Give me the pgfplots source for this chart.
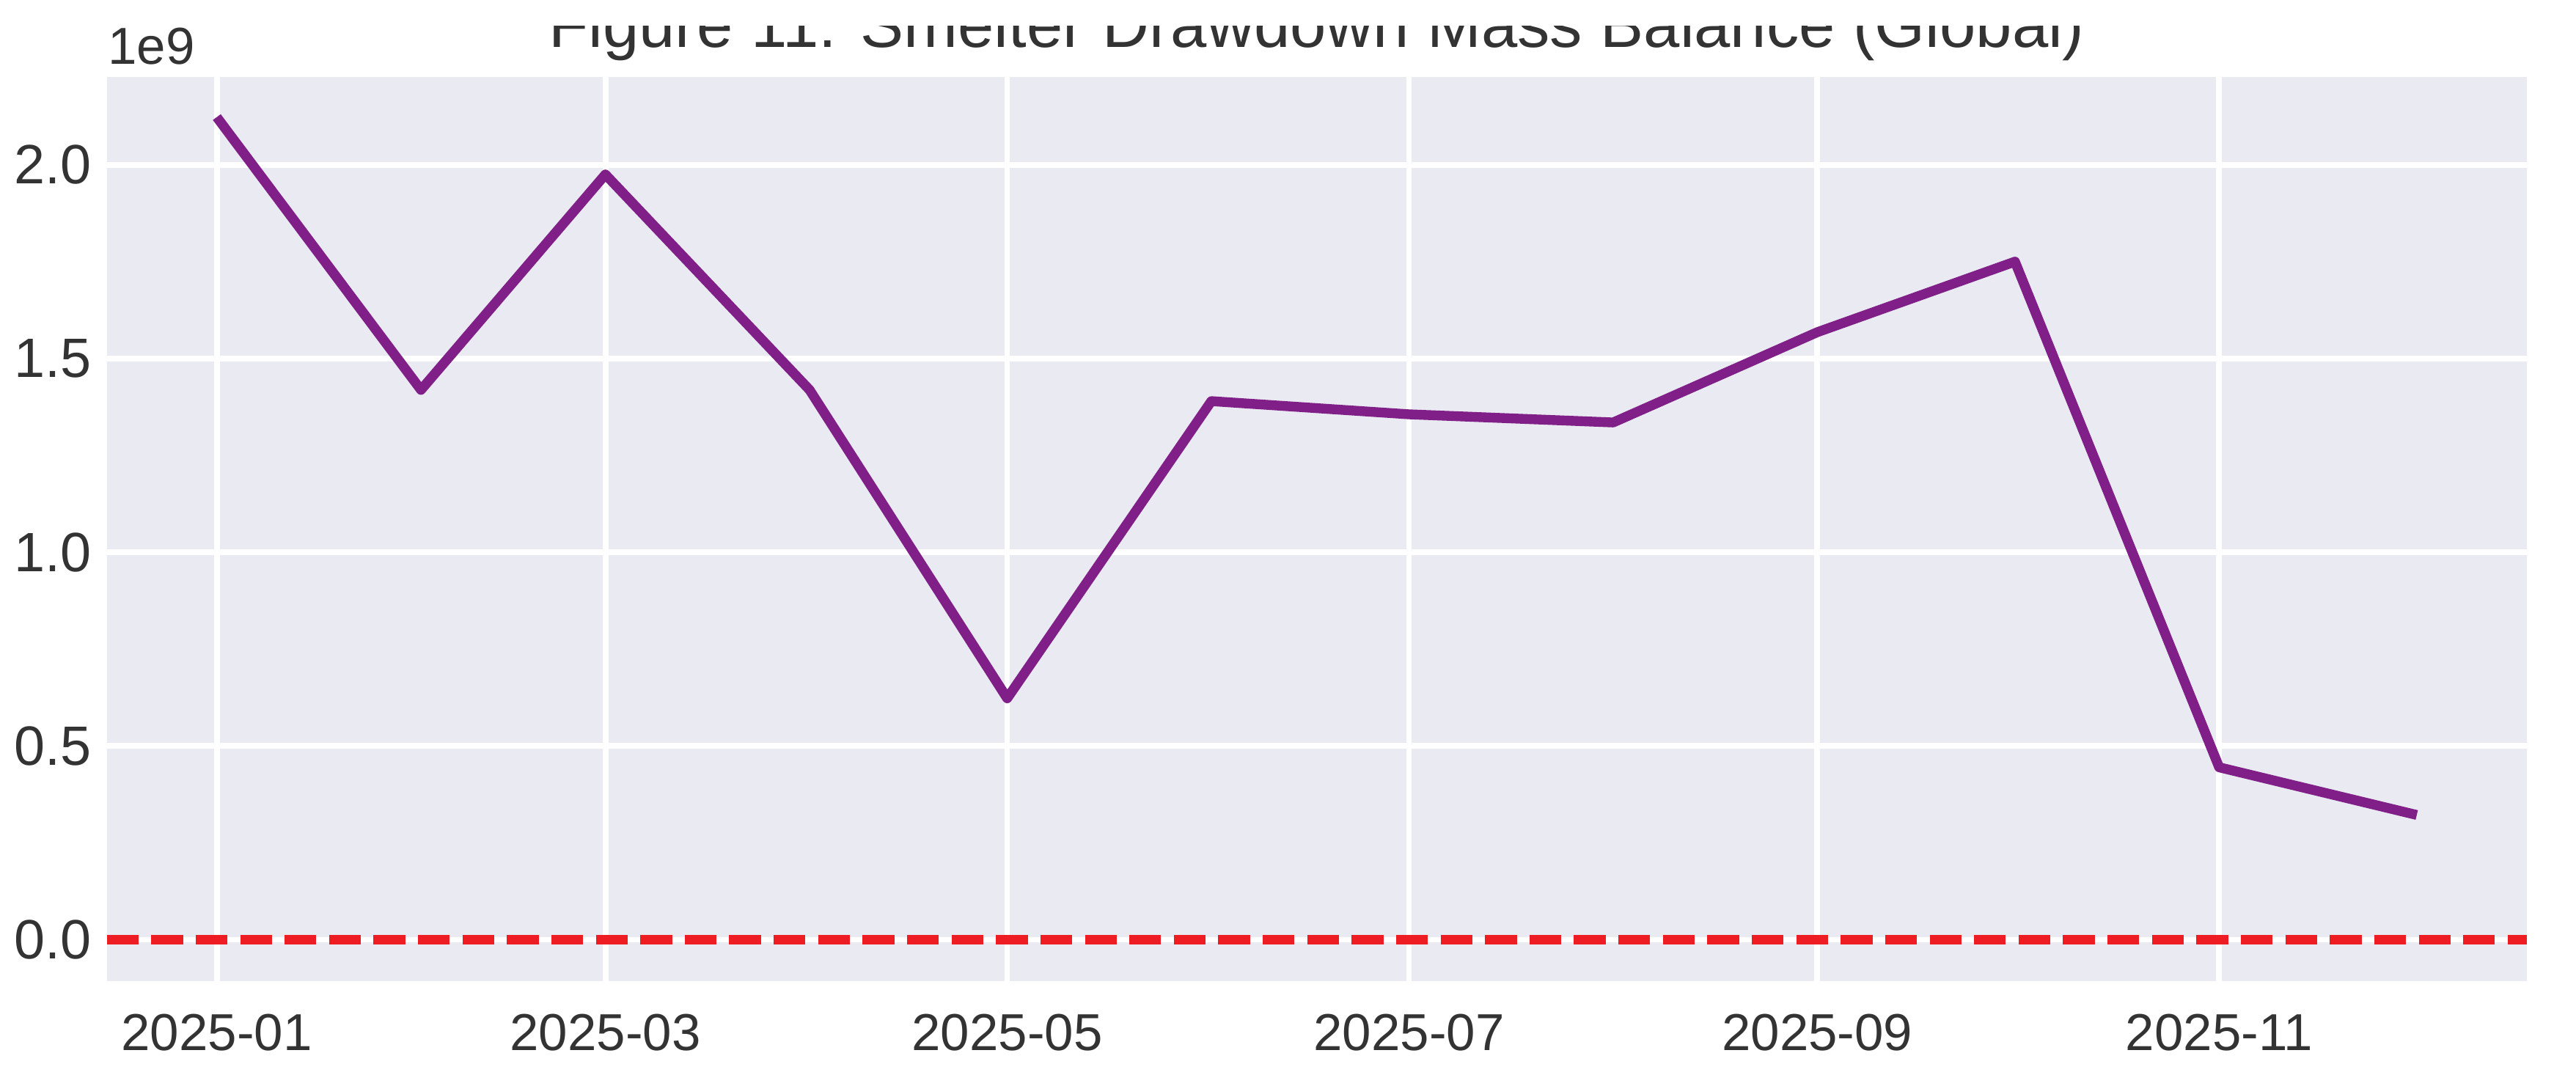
\documentclass[border=0pt]{standalone}
\usepackage{fontspec}
\setmainfont{Liberation Sans}
\usepackage{pgfplots}
\pgfplotsset{compat=1.18}
\usetikzlibrary{calc}

\definecolor{bgcol}{HTML}{EAEAF2}
\definecolor{txt}{HTML}{333333}
\definecolor{linepurple}{HTML}{7F1F87}
\definecolor{zerored}{HTML}{EE1D23}

% days since 2025-01-01, value in 1e9
\pgfplotstableread{
day   val
0     2.123
31    1.419
59    1.975
90    1.419
120   0.623
151   1.390
181   1.356
212   1.335
243   1.568
273   1.750
304   0.445
334   0.322
}\balance

\begin{document}
\begin{tikzpicture}
\begin{axis}[
    name=ax,
    scale only axis,
    width=14.73cm, height=5.5cm,
    xmin=-16.7, xmax=350.7,
    ymin=-0.106, ymax=2.226,
    axis background/.style={fill=bgcol},
    axis line style={draw=none},
    major tick length=0pt,
    grid=major,
    major grid style={white, line width=1pt},
    xtick={0,59,120,181,243,304},
    xticklabels={2025-01,2025-03,2025-05,2025-07,2025-09,2025-11},
    ytick={0,0.5,1,1.5,2},
    yticklabels={0.0,0.5,1.0,1.5,2.0},
    tick label style={font=\fontsize{9}{10}\selectfont, text=txt},
    xticklabel style={yshift=-0.08cm},
    yticklabel style={font=\fontsize{9.6}{11}\selectfont, xshift=0.03cm},
]
\addplot[zerored, line width=1.7pt, dash pattern=on 5.5pt off 2.2pt] coordinates {(-16.7,0) (350.7,0)};
\addplot[linepurple, line width=1.7pt, line join=round] table[x=day, y=val] {\balance};
\end{axis}

\node[anchor=south west, inner sep=0pt, text=txt, font=\fontsize{9}{10}\selectfont]
    at ($(ax.north west)+(0,0.07)$) {1e9};

\begin{scope}
\clip ($(ax.north west)+(-1,0)$) rectangle ($(ax.north east)+(1,0.31)$);
\node[anchor=base, inner sep=0pt, text=txt, font=\fontsize{11.25}{13}\selectfont]
    at ($(ax.north)+(0,0.18)$) {Figure 11: Smelter Drawdown Mass Balance (Global)};
\end{scope}

\pgfresetboundingbox
\path[use as bounding box] ($(ax.south west)+(-0.65,-0.64)$) rectangle ($(ax.north east)+(0.30,0.47)$);
\end{tikzpicture}
\end{document}
